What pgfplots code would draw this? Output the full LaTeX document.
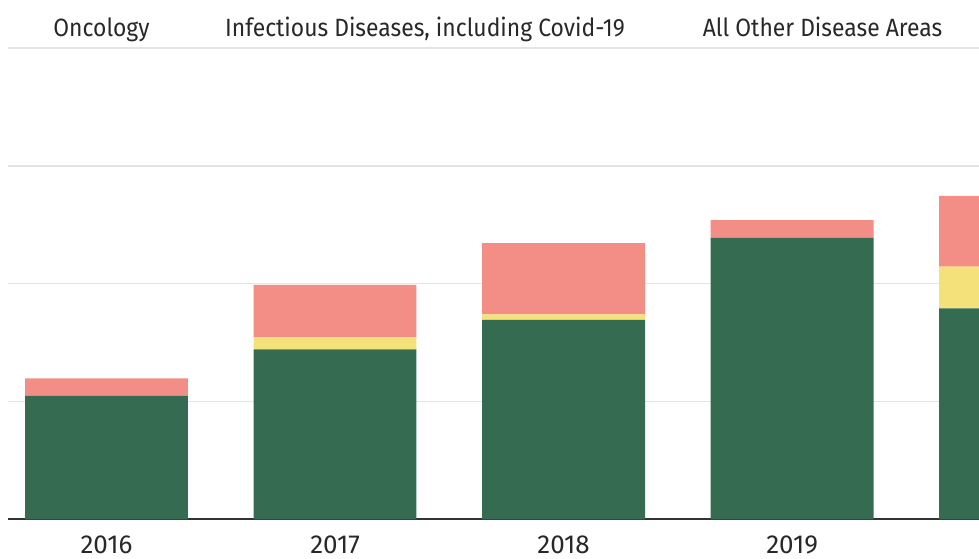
\documentclass[border=0pt]{standalone}
\usepackage{pgfplots}
\pgfplotsset{compat=1.18}
\usepackage{fontspec}
\setmainfont{Fira Sans}
\newfontfamily\condfont[FakeStretch=0.915]{Fira Sans}
\definecolor{cgreen}{RGB}{53,107,80}
\definecolor{cyellow}{RGB}{245,225,122}
\definecolor{cpink}{RGB}{242,142,134}
\definecolor{cgrid}{RGB}{228,228,228}
\definecolor{ctext}{RGB}{40,40,40}
\begin{document}
\begin{tikzpicture}[x=1pt,y=1pt]
\useasboundingbox (0,0) rectangle (979,559);
\begin{axis}[
  at={(8pt,39.7pt)}, anchor=south west,
  scale only axis, width=971pt, height=471.3pt,
  xmin=-0.431, xmax=3.818, ymin=0, ymax=4,
  ybar stacked, bar width=0.713,
  axis x line*=bottom, axis y line*=left,
  y axis line style={draw=none},
  x axis line style={draw=black!80, line width=1.8pt},
  xtick={0,1,2,3,4}, xticklabels={2016,2017,2018,2019,2020},
  ytick={1,2,3,4}, yticklabels={},
  major tick length=0pt,
  ymajorgrids, grid style={draw=cgrid, line width=1.5pt},
  xticklabel style={font=\fontsize{26}{30}\selectfont, text=ctext, yshift=-13.5pt},
  clip=true,
]
\addplot[fill=cgreen, draw=none] coordinates {(0,1.047) (1,1.443) (2,1.692) (3,2.390) (4,1.791)};
\addplot[fill=cyellow, draw=none] coordinates {(0,0) (1,0.102) (2,0.048) (3,0) (4,0.353)};
\addplot[fill=cpink, draw=none] coordinates {(0,0.150) (1,0.444) (2,0.603) (3,0.150) (4,0.600)};
\end{axis}
\begin{scope}[every node/.style={font=\condfont\fontsize{25}{29}\selectfont, text=ctext, anchor=base, inner sep=0pt}]
\node at (101.5,522.5) {Oncology};
\node at (425,522.5) {Infectious Diseases, including Covid-19};
\node at (822.5,522.5) {All Other Disease Areas};
\end{scope}
\end{tikzpicture}
\end{document}
